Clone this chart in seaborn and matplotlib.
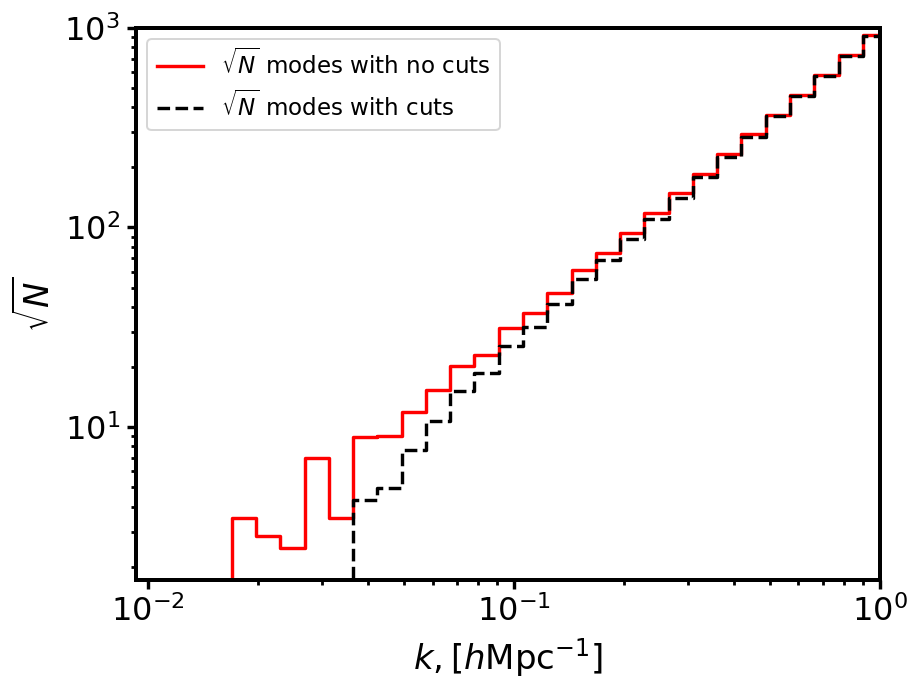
import numpy as np
import pandas as pd
import matplotlib
matplotlib.use("Agg")
import matplotlib.pyplot as plt
import seaborn as sns

# bin edges in k [h/Mpc], log spaced
k_edges = [0.0146, 0.0170, 0.0198, 0.0230, 0.0268, 0.0313, 0.0364, 0.0424,
           0.0494, 0.0576, 0.0671, 0.0781, 0.0910, 0.1060, 0.1235, 0.1439,
           0.1677, 0.1953, 0.2276, 0.2651, 0.3089, 0.3598, 0.4192, 0.4884,
           0.5689, 0.6628, 0.7722, 0.8996, 1.048]

# sqrt(N) per bin, no cuts
sqrtN_nocut = [1.0, 3.5, 2.85, 2.48, 6.97, 3.49, 8.94, 9.04, 11.85, 15.3,
               20.2, 23.1, 31.3, 37.4, 46.8, 61.5, 74.2, 93.4, 117.7, 148,
               185, 233, 293, 366, 462, 581, 733, 923]

# sqrt(N) per bin, with cuts
sqrtN_cut = [np.nan, np.nan, np.nan, np.nan, np.nan, 1.0,
             4.31, 4.93, 7.7, 10.7, 15.1, 18.6, 25.6, 31.8, 41.2, 55.4,
             68.5, 87.1, 110, 140, 178, 226, 283, 360, 457, 575, 725, 908]

# steps-post: repeat last value at the closing edge
df_nocut = pd.DataFrame({'k': k_edges, 'n': sqrtN_nocut + [sqrtN_nocut[-1]]})
df_cut = pd.DataFrame({'k': k_edges, 'n': sqrtN_cut + [sqrtN_cut[-1]]})

fig = plt.figure(figsize=(924 / 144, 696 / 144), dpi=144)
ax = fig.add_axes([0.147, 0.167, 0.805, 0.793])

sns.lineplot(data=df_nocut, x='k', y='n', ax=ax, color='red', lw=1.7,
             drawstyle='steps-post', estimator=None, sort=False,
             label=r'$\sqrt{N}$ modes with no cuts')
sns.lineplot(data=df_cut.dropna(), x='k', y='n', ax=ax, color='black', lw=1.7,
             linestyle='--', drawstyle='steps-post', estimator=None, sort=False,
             label=r'$\sqrt{N}$ modes with cuts')

ax.set_xscale('log')
ax.set_yscale('log')
ax.set_xlim(0.00927, 1.0)
ax.set_ylim(1.72, 1000)

ax.set_xlabel(r'$k, [h{\rm Mpc}^{-1}]$', fontsize=17)
ax.set_ylabel(r'$\sqrt{N}$', fontsize=17)
ax.tick_params(which='major', labelsize=16, length=4.5, width=1.7)
ax.tick_params(which='minor', length=2.5, width=1.4)
for s in ax.spines.values():
    s.set_linewidth(2.0)

ax.legend(loc='upper left', fontsize=11.5)

fig.savefig('out.png', dpi=144)
